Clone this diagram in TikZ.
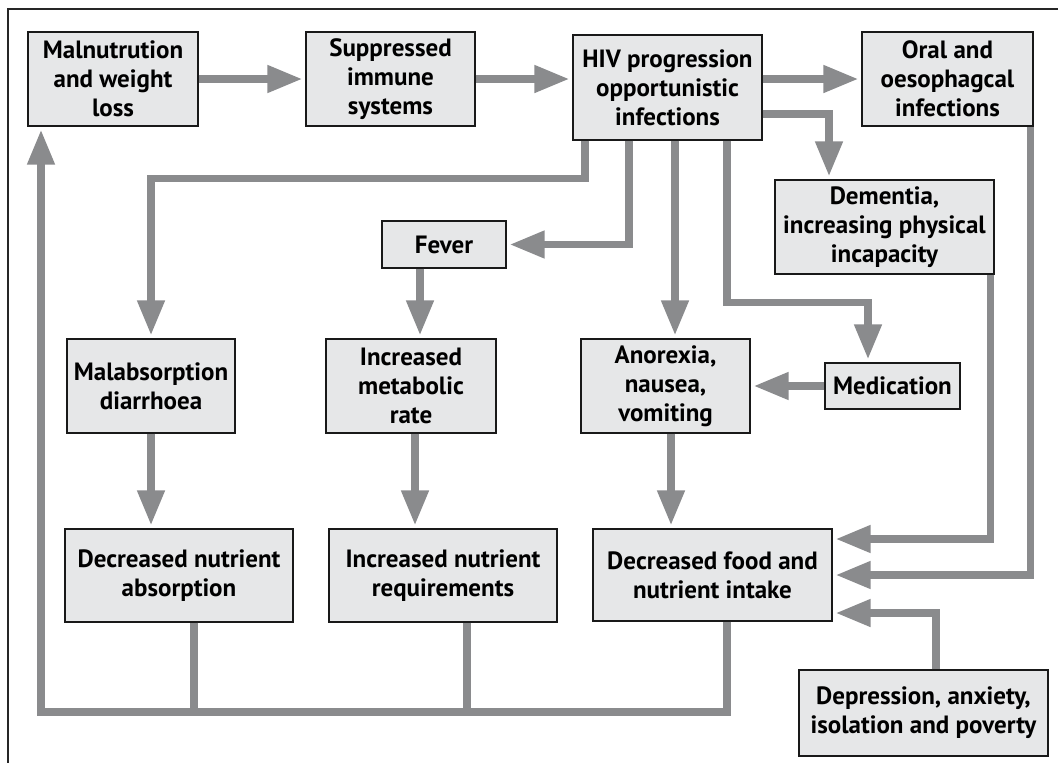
\documentclass[tikz,border=0pt]{standalone}
\usepackage{fontspec}
\setmainfont{PT Sans}
\usepackage{tikz}
\usetikzlibrary{arrows.meta}
\usetikzlibrary{positioning}
\definecolor{boxgray}{HTML}{E6E7E8}
\definecolor{linegray}{HTML}{8A8B8D}
\tikzset{node distance=10em, auto}
\tikzset{
	box/.style={draw=black!90, line width=1.2pt, fill=boxgray, align=center, inner sep=0pt,
		font=\bfseries\fontsize{25}{29}\selectfont},
	flow/.style={draw=linegray, line width=7.5pt, line join=miter},
	flowarr/.style={flow, -{Triangle[length=35pt,width=26pt]}, shorten >=3pt},
}

\begin{document}
\begin{tikzpicture}[x=1pt, y=-1pt]
			\useasboundingbox (0,0) rectangle (1058,763);
			\draw[line width=1.5pt, black!85] (8,763) -- (8,9) -- (1058,9);
			%
			\node (A) [box, minimum width=170pt, minimum height=94pt]		at (113,79)		{Malnutrution\\and weight\\loss};
			\node (B) [box, minimum width=169pt, minimum height=94pt]		at (390.5,79)	{Suppressed\\immune\\systems};
			\node (C) [box, minimum width=189pt, minimum height=105pt]	at (667.5,87.5)	{HIV progression\\opportunistic\\infections};
			\node (D) [box, minimum width=171pt, minimum height=94pt]		at (947.5,79)	{Oral and\\oesophagcal\\infections};
			\node (E) [box, minimum width=219pt, minimum height=94pt]		at (884.5,227)	{Dementia,\\increasing physical\\incapacity};
			\node (F) [box, minimum width=124pt, minimum height=47pt]		at (444,244.5)	{Fever};
			\node (G) [box, minimum width=168pt, minimum height=94pt]		at (151,386)	{Malabsorption\\diarrhoea};
			\node (H) [box, minimum width=170pt, minimum height=94pt]		at (411,386)	{Increased\\metabolic\\rate};
			\node (I) [box, minimum width=169pt, minimum height=94pt]		at (665.5,386)	{Anorexia,\\nausea,\\vomiting};
			\node (J) [box, minimum width=135pt, minimum height=46pt]		at (892.5,386)	{Medication};
			\node (K) [box, minimum width=228pt, minimum height=93pt]		at (179,575.5)	{Decreased nutrient\\absorption};
			\node (L) [box, minimum width=228pt, minimum height=93pt]		at (443,575.5)	{Increased nutrient\\requirements};
			\node (M) [box, minimum width=239pt, minimum height=92pt]		at (712.5,575)	{Decreased food and\\nutrient intake};
			\node (N) [box, minimum width=249pt, minimum height=86pt]		at (923.5,713)	{Depression, anxiety,\\isolation and poverty};
			\coordinate (O) at (41,712);
			%
			\draw[flowarr]	(A)		to		(B);
			\draw[flowarr]	(B.east)	to		(B.east -| C.west);
			\draw[flowarr]	(C.east |- D.west)	to	(D.west);
			\draw[flowarr]	([yshift=-26.5pt]C.east)	-|	([xshift=-55.5pt]E.north);
			%
			\draw[flowarr]	([xshift=-82.5pt]C.south)	-- ++(0,38) -|	(G);
			\draw[flowarr]	([xshift=-38.5pt]C.south)	|-	(F);
			\draw[flowarr]	([xshift=7.5pt]C.south)		to	([xshift=7.5pt]C.south |- I.north);
			\draw[flowarr]	([xshift=59.5pt]C.south)	|-	([xshift=-24.5pt, yshift=60pt]J.north) -- ([xshift=-24.5pt]J.north);
			%
			\draw[flowarr]	([xshift=-24pt]F.south)		to	([xshift=-24pt]F.south |- H.north);
			\draw[flowarr]	(J)		to		(I);
			\draw[flowarr]	(G.south)	to		(G.south |- K.north);
			\draw[flowarr]	([xshift=4pt]H.south)		to	([xshift=4pt]H.south |- L.north);
			\draw[flowarr]	([xshift=5.5pt]I.south)		to	([xshift=5.5pt]I.south |- M.north);
			%
			\draw[flowarr]	([xshift=-4pt]E.south east)	|-	([yshift=36pt]M.east);
			\draw[flowarr]	([xshift=-3pt]D.south east)	|-	(M);
			\draw[flowarr]	([xshift=12.5pt]N.north)	|-	([yshift=-38pt]M.east);
			%
			\draw[flowarr]	([xshift=14.5pt]M.south)	|-	(O) -- (O |- A.south);
			\draw[flow]		([xshift=15pt]K.south)		to	([xshift=15pt]K.south |- O);
			\draw[flow]		([xshift=24pt]L.south)		to	([xshift=24pt]L.south |- O);
		\end{tikzpicture}
\end{document}
